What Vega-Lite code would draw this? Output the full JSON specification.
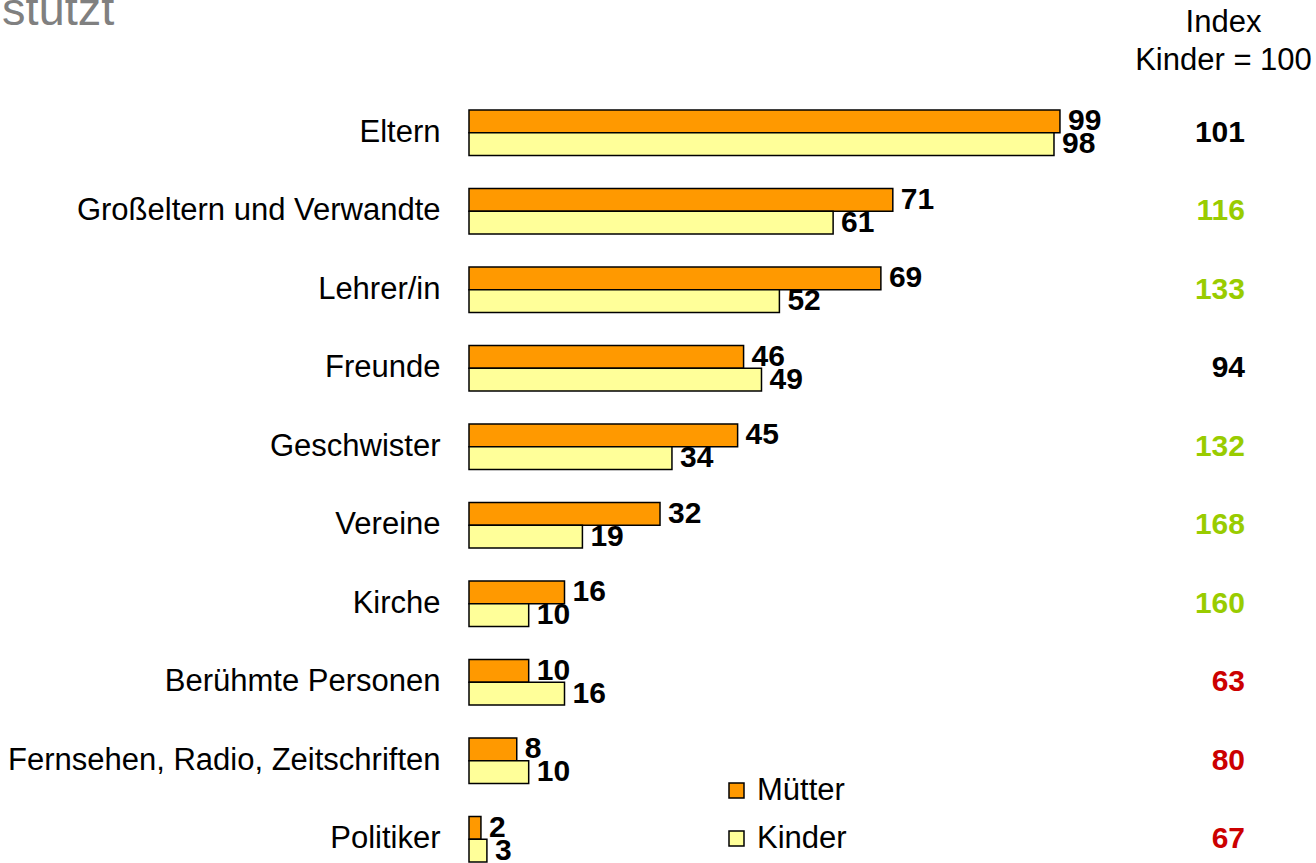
{
  "$schema": "https://vega.github.io/schema/vega-lite/v6.json",
  "width": 776,
  "height": 752,
  "autosize": {"type": "none"},
  "padding": {"left": 469, "top": 110, "right": 71, "bottom": 1},
  "title": {
    "text": "stützt",
    "anchor": "start",
    "frame": "group",
    "fontSize": 47,
    "fontWeight": "normal",
    "color": "#808080",
    "font": "Liberation Sans",
    "baseline": "alphabetic",
    "offset": 0,
    "dx": -467,
    "dy": 66
  },
  "datasets": {
    "balken": [
      {"kategorie": "Eltern", "gruppe": "Mütter", "wert": 99},
      {"kategorie": "Eltern", "gruppe": "Kinder", "wert": 98},
      {"kategorie": "Großeltern und Verwandte", "gruppe": "Mütter", "wert": 71},
      {"kategorie": "Großeltern und Verwandte", "gruppe": "Kinder", "wert": 61},
      {"kategorie": "Lehrer/in", "gruppe": "Mütter", "wert": 69},
      {"kategorie": "Lehrer/in", "gruppe": "Kinder", "wert": 52},
      {"kategorie": "Freunde", "gruppe": "Mütter", "wert": 46},
      {"kategorie": "Freunde", "gruppe": "Kinder", "wert": 49},
      {"kategorie": "Geschwister", "gruppe": "Mütter", "wert": 45},
      {"kategorie": "Geschwister", "gruppe": "Kinder", "wert": 34},
      {"kategorie": "Vereine", "gruppe": "Mütter", "wert": 32},
      {"kategorie": "Vereine", "gruppe": "Kinder", "wert": 19},
      {"kategorie": "Kirche", "gruppe": "Mütter", "wert": 16},
      {"kategorie": "Kirche", "gruppe": "Kinder", "wert": 10},
      {"kategorie": "Berühmte Personen", "gruppe": "Mütter", "wert": 10},
      {"kategorie": "Berühmte Personen", "gruppe": "Kinder", "wert": 16},
      {"kategorie": "Fernsehen, Radio, Zeitschriften", "gruppe": "Mütter", "wert": 8},
      {"kategorie": "Fernsehen, Radio, Zeitschriften", "gruppe": "Kinder", "wert": 10},
      {"kategorie": "Politiker", "gruppe": "Mütter", "wert": 2},
      {"kategorie": "Politiker", "gruppe": "Kinder", "wert": 3}
    ],
    "index": [
      {"kategorie": "Eltern", "index": 101, "tendenz": "gleich"},
      {"kategorie": "Großeltern und Verwandte", "index": 116, "tendenz": "höher"},
      {"kategorie": "Lehrer/in", "index": 133, "tendenz": "höher"},
      {"kategorie": "Freunde", "index": 94, "tendenz": "gleich"},
      {"kategorie": "Geschwister", "index": 132, "tendenz": "höher"},
      {"kategorie": "Vereine", "index": 168, "tendenz": "höher"},
      {"kategorie": "Kirche", "index": 160, "tendenz": "höher"},
      {"kategorie": "Berühmte Personen", "index": 63, "tendenz": "niedriger"},
      {"kategorie": "Fernsehen, Radio, Zeitschriften", "index": 80, "tendenz": "niedriger"},
      {"kategorie": "Politiker", "index": 67, "tendenz": "niedriger"}
    ]
  },
  "encoding": {
    "y": {
      "field": "kategorie",
      "type": "nominal",
      "sort": null,
      "scale": {
        "domain": ["Eltern", "Großeltern und Verwandte", "Lehrer/in", "Freunde", "Geschwister", "Vereine", "Kirche", "Berühmte Personen", "Fernsehen, Radio, Zeitschriften", "Politiker"],
        "paddingInner": 0.42,
        "paddingOuter": 0
      },
      "axis": {
        "title": null,
        "ticks": false,
        "domain": false,
        "labelFontSize": 31,
        "labelFont": "Liberation Sans",
        "labelColor": "#000000",
        "labelPadding": 29,
        "labelLimit": 600
      }
    }
  },
  "layer": [
    {
      "data": {"name": "balken"},
      "mark": {"type": "bar", "stroke": "#000000", "strokeWidth": 1.5},
      "encoding": {
        "x": {
          "field": "wert",
          "type": "quantitative",
          "scale": {"domain": [0, 130], "nice": false, "zero": true},
          "axis": {
            "orient": "top",
            "domain": false,
            "ticks": false,
            "labels": false,
            "grid": false,
            "title": ["Index", "Kinder = 100"],
            "titleFont": "Liberation Sans",
            "titleFontSize": 31,
            "titleFontWeight": "normal",
            "titleColor": "#000000",
            "titleAlign": "center",
            "titleBaseline": "alphabetic",
            "titleLineHeight": 38,
            "titleAnchor": null,
            "titleX": 754,
            "titleY": -79
          }
        },
        "yOffset": {
          "field": "gruppe",
          "type": "nominal",
          "sort": ["Mütter", "Kinder"],
          "scale": {"domain": ["Mütter", "Kinder"], "paddingInner": 0, "paddingOuter": 0}
        },
        "color": {
          "field": "gruppe",
          "type": "nominal",
          "scale": {"domain": ["Mütter", "Kinder"], "range": ["#FF9900", "#FFFF99"]},
          "legend": {
            "title": null,
            "orient": "none",
            "legendX": 252,
            "legendY": 665,
            "symbolType": "square",
            "symbolSize": 225,
            "symbolStrokeColor": "#000000",
            "symbolStrokeWidth": 1.5,
            "symbolOpacity": 1,
            "labelFont": "Liberation Sans",
            "labelFontSize": 31,
            "labelColor": "#000000",
            "labelOffset": 5,
            "rowPadding": 16,
            "padding": 0
          }
        }
      }
    },
    {
      "data": {"name": "balken"},
      "mark": {"type": "text", "align": "left", "baseline": "middle", "dx": 8, "fontSize": 30, "fontWeight": "bold", "font": "Liberation Sans", "color": "#000000"},
      "encoding": {
        "x": {"field": "wert", "type": "quantitative"},
        "yOffset": {"field": "gruppe", "type": "nominal", "sort": ["Mütter", "Kinder"]},
        "text": {"field": "wert", "type": "quantitative"}
      }
    },
    {
      "data": {"name": "index"},
      "mark": {"type": "text", "align": "right", "baseline": "middle", "fontSize": 30, "fontWeight": "bold", "font": "Liberation Sans"},
      "encoding": {
        "x": {"datum": 130, "type": "quantitative"},
        "text": {"field": "index", "type": "quantitative"},
        "color": {
          "field": "tendenz",
          "type": "nominal",
          "scale": {"domain": ["gleich", "höher", "niedriger"], "range": ["#000000", "#99CC00", "#CC0000"]},
          "legend": null
        }
      }
    }
  ],
  "resolve": {"scale": {"color": "independent"}},
  "config": {
    "view": {"stroke": null},
    "font": "Liberation Sans"
  }
}
